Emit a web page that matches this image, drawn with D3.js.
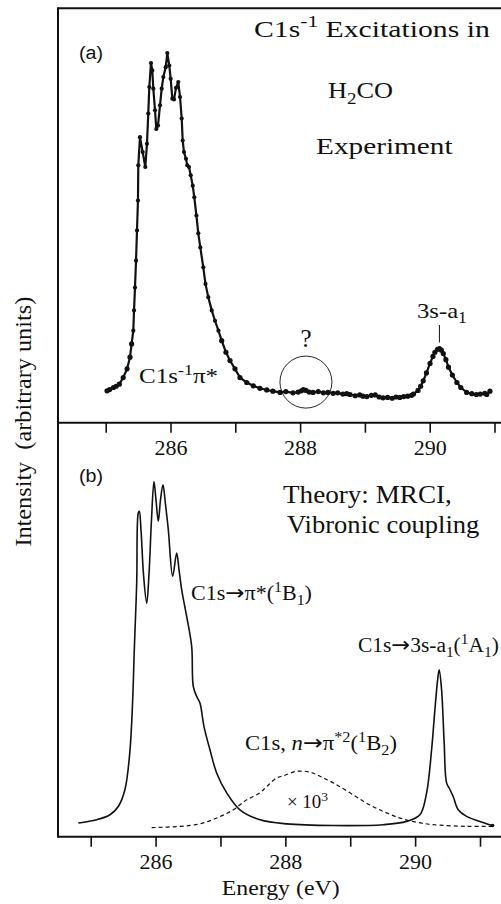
<!DOCTYPE html>
<html>
<head>
<meta charset="utf-8">
<script src="https://cdn.jsdelivr.net/npm/d3@7"></script>
<style>
  body { margin: 0; background: #fff; }
  svg { display: block; }
  .serif { font-family: "Liberation Serif", "Times New Roman", Times, serif; }
  .sans { font-family: "Liberation Sans", Arial, Helvetica, sans-serif; }
  .arrow { font-family: "DejaVu Sans", sans-serif; }
</style>
</head>
<body>
<svg id="chart"></svg>
<script>
// ---- data (energy in eV, intensity in arbitrary units 0..100) ----

// (a) experiment, C1s^-1 excitations in H2CO
const expEnergy = [
  285.02, 285.06, 285.12, 285.16, 285.21, 285.27, 285.33, 285.375, 285.40, 285.426,
  285.437, 285.452, 285.468, 285.483, 285.498, 285.503, 285.529, 285.571, 285.611, 285.637,
  285.657, 285.673, 285.699, 285.719, 285.735, 285.761, 285.781, 285.807, 285.838, 285.864,
  285.889, 285.926, 285.951, 285.981, 286.003, 286.028, 286.054, 286.085, 286.12, 286.147,
  286.173, 286.188, 286.208, 286.239, 286.259, 286.285, 286.312, 286.343, 286.367, 286.40,
  286.429, 286.46, 286.506, 286.54, 286.583, 286.636, 286.687, 286.74, 286.79, 286.856,
  286.918, 286.995, 287.072, 287.176, 287.278, 287.38, 287.485, 287.58, 287.69, 287.78,
  287.89, 287.97, 288.02, 288.05, 288.09, 288.14, 288.20, 288.28, 288.36, 288.43,
  288.51, 288.58, 288.66, 288.72, 288.77, 288.85, 288.92, 288.97, 289.03, 289.10,
  289.16, 289.22, 289.28, 289.35, 289.42, 289.48, 289.54, 289.60, 289.66, 289.72,
  289.75, 289.82, 289.86, 289.90, 289.95, 290.005, 290.05, 290.08, 290.12, 290.15,
  290.18, 290.21, 290.25, 290.29, 290.35, 290.42, 290.48, 290.57, 290.65, 290.72,
  290.78, 290.85, 290.88, 290.93
];
const expIntensity = [
  7.7, 8.0, 8.5, 8.8, 9.3, 10.9, 13.0, 15.8, 19.0, 22.2,
  27.1, 32.6, 39.1, 46.4, 53.6, 62.1, 68.9, 65.3, 61.7, 67.3,
  74.6, 81.0, 86.8, 85.0, 80.6, 75.4, 70.9, 71.7, 76.6, 80.6,
  83.4, 85.8, 89.2, 86.2, 83.0, 78.2, 78.0, 80.8, 82.2, 78.6,
  73.4, 68.1, 65.3, 63.7, 62.1, 61.7, 59.7, 57.2, 54.4, 50.0,
  45.7, 42.3, 37.5, 33.5, 30.3, 27.1, 24.6, 22.2, 19.8, 17.0,
  15.0, 13.0, 10.9, 9.7, 8.9, 8.3, 7.9, 7.6, 7.3, 7.5,
  7.2, 7.4, 7.7, 8.0, 7.8, 7.4, 7.3, 7.5, 7.2, 7.3,
  7.1, 7.2, 6.9, 7.0, 6.8, 6.5, 6.7, 6.4, 6.3, 6.6,
  6.7, 6.2, 6.0, 6.1, 5.9, 6.2, 6.1, 6.3, 6.4, 6.6,
  6.9, 7.8, 8.8, 10.1, 12.0, 14.3, 16.0, 17.0, 17.7, 17.9,
  17.5, 16.7, 15.2, 13.4, 11.5, 9.7, 8.5, 7.3, 7.0, 6.8,
  6.9, 7.1, 6.8, 7.6
];

// (b) theory, MRCI with vibronic coupling (solid curve)
const theoryEnergy = [
  284.809, 285.092, 285.297, 285.425, 285.528, 285.606, 285.647, 285.672, 285.709, 285.733,
  285.749, 285.775, 285.814, 285.863, 285.898, 285.937, 285.975, 286.006, 286.042, 286.076,
  286.114, 286.153, 286.196, 286.263, 286.325, 286.361, 286.402, 286.479, 286.556, 286.581,
  286.633, 286.684, 286.746, 286.838, 286.941, 287.096, 287.300, 287.609, 288.020, 288.738,
  289.509, 289.869, 290.074, 290.177, 290.254, 290.305, 290.347, 290.371, 290.408, 290.448,
  290.485, 290.536, 290.587, 290.664, 290.793, 290.998, 291.194
];
const theoryIntensity = [
  3.3, 4.1, 5.3, 7.3, 11.4, 21.0, 33.1, 45.2, 61.3, 78.2,
  78.6, 74.2, 63.3, 56.4, 63.3, 76.6, 85.8, 81.4, 76.2, 81.4,
  85.0, 80.2, 74.2, 62.9, 68.5, 64.5, 59.7, 53.2, 46.0, 36.3,
  33.9, 32.3, 26.6, 21.0, 15.4, 10.6, 6.5, 4.1, 3.1, 2.7,
  2.9, 3.7, 5.3, 10.6, 21.0, 30.7, 37.9, 40.3, 35.5, 22.6,
  13.0, 11.4, 9.7, 6.5, 4.9, 3.7, 2.7
];

// (b) C1s, n -> pi*2 (1B2) band, scaled x 10^3 (dashed curve)
const satEnergy = [
  285.940, 286.376, 286.684, 286.941, 287.197, 287.404, 287.609, 287.712, 287.866, 287.968,
  288.174, 288.379, 288.533, 288.738, 288.995, 289.253, 289.509, 289.766, 290.023, 290.279,
  290.793, 291.194
];
const satIntensity = [
  2.2, 2.5, 3.1, 4.5, 6.5, 8.9, 10.6, 12.1, 14.2, 14.7,
  15.8, 15.6, 14.6, 13.0, 10.6, 8.1, 6.1, 4.5, 3.5, 2.9,
  2.5, 2.5
];

const tickValues = [285, 286, 287, 288, 289, 290, 291];
const labelledTicks = [286, 288, 290];

// ---- layout ----
const width = 501, height = 904;
const frameLeft = 58, frameTop = 8.3, frameMid = 422.7, frameBottom = 836.7;
const INK = '#111';

const svg = d3.select('#chart')
    .attr('width', width)
    .attr('height', height);

svg.append('rect')
    .attr('width', width)
    .attr('height', height)
    .attr('fill', '#fff');

// Scales: both panels share ~64.8 px/eV but are shifted against each other
const xTop = d3.scaleLinear().domain([285, 291]).range([105.7, 494.5]);
const yTop = d3.scaleLinear().domain([0, 100]).range([frameMid, frameTop]);
const xBot = d3.scaleLinear().domain([285, 291]).range([90.7, 480]);
const yBot = d3.scaleLinear().domain([0, 100]).range([frameBottom, frameMid]);

/**
 * Writes a label made of plain / superscript / subscript / arrow pieces and,
 * when a width is given, stretches it horizontally to that width (the scan is wide).
 */
function drawLabel(parent, parts, o) {
    const size = o.size;
    const t = parent.append('text')
        .attr('class', o.sans ? 'sans' : 'serif')
        .attr('font-size', size)
        .attr('text-anchor', o.anchor || 'start')
        .attr('fill', INK);
    let level = 0;
    parts.forEach(p => {
        const str = typeof p === 'string' ? p : p.t;
        const kind = typeof p === 'string' ? 'n' : (p.k || 'n');
        const next = kind === 'sup' ? -0.38 * size : kind === 'sub' ? 0.24 * size : 0;
        const ts = t.append('tspan').attr('dy', next - level).text(str);
        if (kind === 'sup' || kind === 'sub') ts.attr('font-size', size * 0.72);
        if (kind === 'arrow') ts.attr('class', 'arrow').attr('font-size', size * 1.05);
        if (p.it) ts.attr('font-style', 'italic');
        level = next;
    });
    let sx = 1;
    if (o.width) sx = o.width / t.node().getBBox().width;
    t.attr('transform', `translate(${o.x},${o.y})${o.rotate ? ' rotate(-90)' : ''} scale(${sx.toFixed(3)},1)`);
    return t;
}

const ARROW = {t: '→', k: 'arrow'};

function drawAxis(xScale, yPos) {
    const axis = d3.axisBottom(xScale)
        .tickValues(tickValues)
        .tickSize(10)
        .tickSizeOuter(0)
        .tickPadding(7)
        .tickFormat(d => labelledTicks.includes(d) ? d : '');
    const g = svg.append('g')
        .attr('transform', `translate(0,${yPos})`)
        .call(axis)
        .call(g => g.select('.domain').remove());
    g.attr('font-family', null).attr('font-size', null);
    g.selectAll('line').attr('stroke', INK).attr('stroke-width', 1.6);
    g.selectAll('text')
        .attr('class', 'serif')
        .attr('font-size', 22)
        .attr('fill', INK);
}

// ---- frame ----
const frame = svg.append('g')
    .attr('stroke', INK)
    .attr('stroke-width', 2)
    .attr('fill', 'none');
frame.append('line').attr('x1', frameLeft).attr('x2', frameLeft).attr('y1', frameTop - 1).attr('y2', frameBottom + 1);
[frameTop, frameMid, frameBottom].forEach(y => {
    frame.append('line').attr('x1', frameLeft).attr('x2', width).attr('y1', y).attr('y2', y);
});

drawAxis(xTop, frameMid);
drawAxis(xBot, frameBottom);

// ---- panel (a): experiment ----
const expData = d3.zip(expEnergy, expIntensity);
const lineTop = d3.line().x(d => xTop(d[0])).y(d => yTop(d[1]));

svg.append('path')
    .datum(expData)
    .attr('d', lineTop)
    .attr('fill', 'none')
    .attr('stroke', INK)
    .attr('stroke-width', 2.2)
    .attr('stroke-linejoin', 'round');

svg.selectAll('.point')
    .data(expData)
    .enter()
    .append('circle')
    .attr('class', 'point')
    .attr('cx', d => xTop(d[0]))
    .attr('cy', d => yTop(d[1]))
    .attr('r', d => d[1] < 20 ? 2.6 : 2.1)
    .attr('fill', INK);

// circled feature near 288.1 eV
svg.append('circle')
    .attr('cx', xTop(288.09))
    .attr('cy', yTop(9.8))
    .attr('r', 26)
    .attr('fill', 'none')
    .attr('stroke', INK)
    .attr('stroke-width', 0.9);

// leader line for the 3s-a1 peak
svg.append('line')
    .attr('x1', xTop(290.15)).attr('x2', xTop(290.15))
    .attr('y1', 325).attr('y2', yTop(17.9) - 6)
    .attr('stroke', INK)
    .attr('stroke-width', 1);

drawLabel(svg, ['(a)'], {x: 79, y: 59, size: 19, sans: true, width: 24});
drawLabel(svg, ['C1s', {t: '-1', k: 'sup'}, ' Excitations in'], {x: 254, y: 36.5, size: 24, width: 236});
drawLabel(svg, ['H', {t: '2', k: 'sub'}, 'CO'], {x: 328, y: 98, size: 24, width: 65});
drawLabel(svg, ['Experiment'], {x: 316, y: 154, size: 24, width: 137});
drawLabel(svg, ['C1s', {t: '-1', k: 'sup'}, 'π*'], {x: 139, y: 383, size: 21, width: 79});
drawLabel(svg, ['3s-a', {t: '1', k: 'sub'}], {x: 417, y: 317.7, size: 22, width: 50});
drawLabel(svg, ['?'], {x: xTop(288.09), y: 346.7, size: 25, anchor: 'middle'});

// ---- panel (b): theory ----
const lineBot = d3.line().x(d => xBot(d[0])).y(d => yBot(d[1])).curve(d3.curveCatmullRom.alpha(0.5));

svg.append('path')
    .datum(d3.zip(theoryEnergy, theoryIntensity))
    .attr('d', lineBot)
    .attr('fill', 'none')
    .attr('stroke', INK)
    .attr('stroke-width', 1.6);

svg.append('path')
    .datum(d3.zip(satEnergy, satIntensity))
    .attr('d', lineBot)
    .attr('fill', 'none')
    .attr('stroke', INK)
    .attr('stroke-width', 1.2)
    .attr('stroke-dasharray', '4,3');

svg.append('circle')
    .attr('cx', xBot(theoryEnergy[theoryEnergy.length - 1]))
    .attr('cy', yBot(theoryIntensity[theoryIntensity.length - 1]))
    .attr('r', 1.8)
    .attr('fill', INK);

drawLabel(svg, ['(b)'], {x: 79, y: 482, size: 19, sans: true, width: 24});
drawLabel(svg, ['Theory: MRCI,'], {x: 283, y: 503, size: 25, width: 169});
drawLabel(svg, ['Vibronic coupling'], {x: 287, y: 533, size: 25, width: 193});
drawLabel(svg, ['C1s', ARROW, 'π*(', {t: '1', k: 'sup'}, 'B', {t: '1', k: 'sub'}, ')'], {x: 191, y: 600, size: 20, width: 121});
drawLabel(svg, ['C1s', ARROW, '3s-a', {t: '1', k: 'sub'}, '(', {t: '1', k: 'sup'}, 'A', {t: '1', k: 'sub'}, ')'], {x: 358, y: 651.7, size: 20, width: 141});
drawLabel(svg, ['C1s, ', {t: 'n', it: true}, ARROW, 'π', {t: '*2', k: 'sup'}, '(', {t: '1', k: 'sup'}, 'B', {t: '2', k: 'sub'}, ')'], {x: 245, y: 750, size: 20, width: 152});
drawLabel(svg, ['× 10', {t: '3', k: 'sup'}], {x: 287, y: 808, size: 18, width: 41});

// ---- axis titles ----
drawLabel(svg, ['Energy (eV)'], {x: 221.7, y: 895, size: 20, width: 118});
drawLabel(svg, ['Intensity\u00a0\u00a0(arbitrary units)'], {x: 31, y: 421.7, size: 23, anchor: 'middle', rotate: true, width: 250});
</script>
</body>
</html>
